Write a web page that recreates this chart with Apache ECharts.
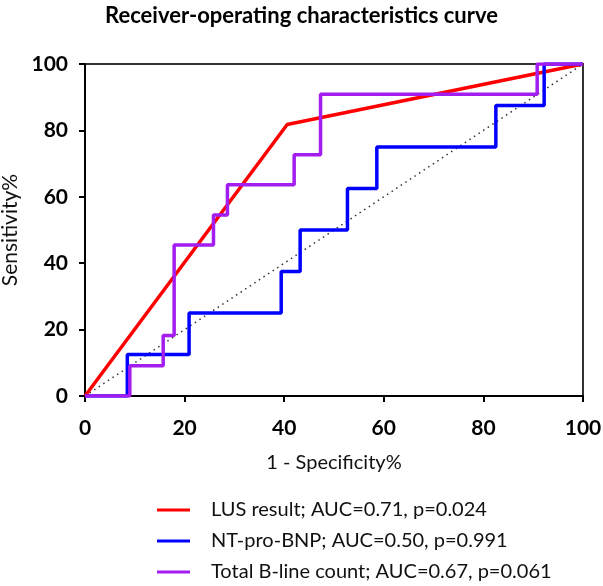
<!DOCTYPE html>
<html>
<head>
<meta charset="utf-8">
<script src="https://cdn.jsdelivr.net/npm/echarts@6/dist/echarts.min.js"></script>
<style>html,body{margin:0;padding:0;background:#fff}#c{width:603px;height:586px}</style>
</head>
<body>
<div id="c"></div>
<script>
// ---- Data ----
const titleText = 'Receiver-operating characteristics curve';
const xAxisName = '1 - Specificity%';
const yAxisName = 'Sensitivity%';
const axisTicks = [0, 20, 40, 60, 80, 100];

const seriesNames = [
  'LUS result; AUC=0.71, p=0.024',
  'NT-pro-BNP; AUC=0.50, p=0.991',
  'Total B-line count; AUC=0.67, p=0.061'
];

// LUS result
const lusFpr = [0, 40.6, 100];
const lusTpr = [0, 81.8, 100];

// NT-pro-BNP
const bnpFpr = [0, 8.5, 8.5, 20.9, 20.9, 39.4, 39.4, 43.2, 43.2, 52.7, 52.7, 58.6, 58.6, 82.5, 82.5, 92.2, 92.2, 100];
const bnpTpr = [0, 0, 12.5, 12.5, 25, 25, 37.5, 37.5, 50, 50, 62.5, 62.5, 75, 75, 87.5, 87.5, 100, 100];

// Total B-line count
const blcFpr = [0, 9.0, 9.0, 15.7, 15.7, 17.9, 17.9, 25.8, 25.8, 28.6, 28.6, 42.0, 42.0, 47.3, 47.3, 90.8, 90.8, 100];
const blcTpr = [0, 0, 9.1, 9.1, 18.2, 18.2, 45.5, 45.5, 54.5, 54.5, 63.6, 63.6, 72.7, 72.7, 90.9, 90.9, 100, 100];

// Reference (chance) line
const refFpr = [0, 100];
const refTpr = [0, 100];

const zip = (a, b) => a.map((v, i) => [v, b[i]]);
const FONT = 'Lato';

const chart = echarts.init(document.getElementById('c'), null, {renderer: 'canvas'});
const axisCommon = {
  type: 'value', min: axisTicks[0], max: axisTicks[axisTicks.length - 1], interval: 20,
  axisLine: {show: true, lineStyle: {color: '#000', width: 2}},
  axisTick: {show: true, inside: false, length: 6, lineStyle: {color: '#000', width: 2}},
  splitLine: {show: false},
  nameLocation: 'middle'
};
chart.setOption({
  animation: false,
  backgroundColor: '#fff',
  title: {
    text: titleText, left: 'center', top: 0,
    textStyle: {fontFamily: FONT, fontWeight: 'bold', fontSize: 22, color: '#000'}
  },
  grid: {left: 85, right: 20, top: 64, bottom: 190, containLabel: false, outerBoundsMode: 'none',
         show: true, borderColor: '#333', borderWidth: 2, backgroundColor: 'transparent'},
  xAxis: Object.assign({}, axisCommon, {
    name: xAxisName, nameGap: 57,
    nameTextStyle: {fontFamily: FONT, fontSize: 20, color: '#111'},
    axisLabel: {fontFamily: FONT, fontWeight: 'bold', fontSize: 21, color: '#000', margin: 22}
  }),
  yAxis: Object.assign({}, axisCommon, {
    name: yAxisName, nameGap: 55,
    nameTextStyle: {fontFamily: FONT, fontSize: 21, color: '#111'},
    axisLabel: {fontFamily: FONT, fontWeight: 'bold', fontSize: 21, color: '#000', margin: 17}
  }),
  legend: {
    orient: 'vertical', left: 157, top: 500, padding: 0,
    itemWidth: 33, itemHeight: 3, itemGap: 11,
    icon: 'rect',
    data: seriesNames,
    textStyle: {fontFamily: FONT, fontSize: 20, color: '#111', padding: [0, 0, 0, 16]}
  },
  series: [
    {type: 'line', name: 'ref', data: zip(refFpr, refTpr), symbol: 'none', silent: true,
     lineStyle: {color: '#333', width: 1.5, type: [1.5, 4]}, z: 1},
    {type: 'line', name: seriesNames[0], data: zip(lusFpr, lusTpr), symbol: 'none',
     itemStyle: {color: '#ff0000'}, lineStyle: {color: '#ff0000', width: 3.5}, z: 2},
    {type: 'line', name: seriesNames[1], data: zip(bnpFpr, bnpTpr), symbol: 'none',
     itemStyle: {color: '#0000ff'}, lineStyle: {color: '#0000ff', width: 3.5}, z: 3},
    {type: 'line', name: seriesNames[2], data: zip(blcFpr, blcTpr), symbol: 'none',
     itemStyle: {color: '#a31cf0'}, lineStyle: {color: '#a31cf0', width: 3.5}, z: 4}
  ]
});
</script>
</body>
</html>
